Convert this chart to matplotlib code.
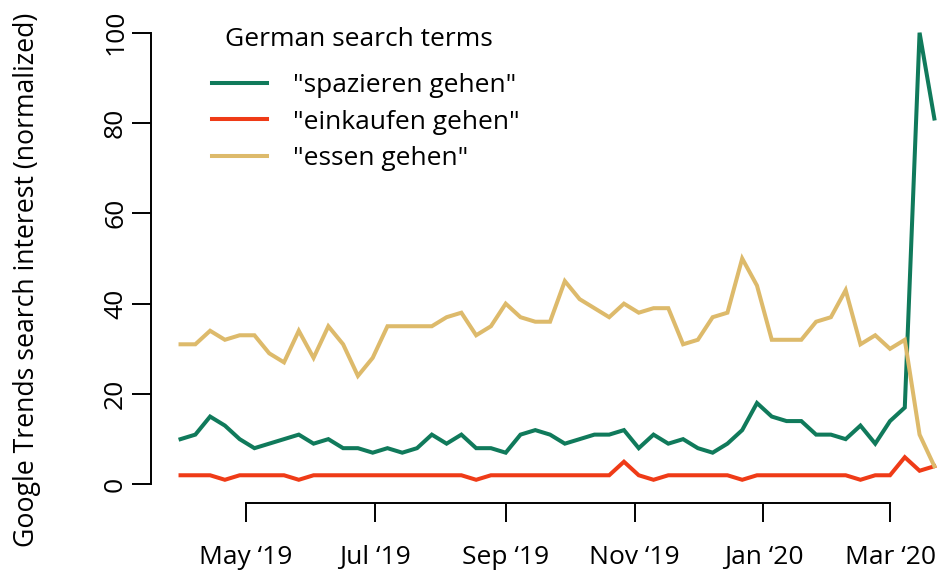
import matplotlib
matplotlib.use("Agg")
import matplotlib.pyplot as plt
import matplotlib.dates as mdates
import pandas as pd
import numpy as np

plt.rcParams['font.family'] = ['Open Sans', 'DejaVu Sans']

# Weekly Google Trends data (weeks starting Sunday)
start_week = "2019-03-31"
n_weeks = 52
weeks = pd.date_range(start=start_week, periods=n_weeks, freq="7D")

spazieren = [10, 11, 15, 13, 10, 8, 9, 10, 11, 9, 10, 8, 8, 7, 8, 7, 8, 11, 9, 11,
             8, 8, 7, 11, 12, 11, 9, 10, 11, 11, 12, 8, 11, 9, 10, 8, 7, 9, 12, 18,
             15, 14, 14, 11, 11, 10, 13, 9, 14, 17, 100, 81]
einkaufen = [2, 2, 2, 1, 2, 2, 2, 2, 1, 2, 2, 2, 2, 2, 2, 2, 2, 2, 2, 2,
             1, 2, 2, 2, 2, 2, 2, 2, 2, 2, 5, 2, 1, 2, 2, 2, 2, 2, 1, 2,
             2, 2, 2, 2, 2, 2, 1, 2, 2, 6, 3, 4]
essen = [31, 31, 34, 32, 33, 33, 29, 27, 34, 28, 35, 31, 24, 28, 35, 35, 35, 35, 37, 38,
         33, 35, 40, 37, 36, 36, 45, 41, 39, 37, 40, 38, 39, 39, 31, 32, 37, 38, 50, 44,
         32, 32, 32, 36, 37, 43, 31, 33, 30, 32, 11, 4]

series_labels = ['"spazieren gehen"', '"einkaufen gehen"', '"essen gehen"']
series_colors = ["#107a5b", "#ef3b17", "#ddba6b"]
legend_title = "German search terms"

xtick_dates = ["2019-05-01", "2019-07-01", "2019-09-01", "2019-11-01", "2020-01-01", "2020-03-01"]
xtick_labels = ["May \u201819", "Jul \u201819", "Sep \u201819", "Nov \u201819", "Jan \u201820", "Mar \u201820"]
yticks = [0, 20, 40, 60, 80, 100]
ylabel = "Google Trends search interest (normalized)"

W, H = 945, 579
fig = plt.figure(figsize=(W / 100, H / 100), dpi=100)

# axes geometry in pixels
ax_left_px, ax_right_px = 151, 945
ax_bottom_px, ax_top_px = 503, 12
ax_w = ax_right_px - ax_left_px
ax_h = ax_bottom_px - ax_top_px
ax = fig.add_axes([ax_left_px / W, (H - ax_bottom_px) / H, ax_w / W, ax_h / H])

for vals, lab, col in zip([spazieren, einkaufen, essen], series_labels, series_colors):
    ax.plot(weeks, vals, color=col, lw=2.9, label=lab, solid_joinstyle='miter')

# x scale: May 1 2019 at px 246, px per day 2.1115
may1 = mdates.date2num(pd.Timestamp("2019-05-01"))
ppd = 2.1115
ax.set_xlim(may1 + (ax_left_px - 246) / ppd, may1 + (ax_right_px - 246) / ppd)
ppu = 4.516
ax.set_ylim(-(ax_bottom_px - 484.3) / ppu, (484.3 - ax_top_px) / ppu)

xt = [mdates.date2num(pd.Timestamp(d)) for d in xtick_dates]
ax.set_xticks(xt)
ax.set_xticklabels(xtick_labels)
ax.set_yticks(yticks)
ax.set_yticklabels([str(v) for v in yticks], rotation=90, va='center')

for s in ['top', 'right']:
    ax.spines[s].set_visible(False)
ax.spines['left'].set_bounds(0, 100)
ax.spines['bottom'].set_bounds(xt[0], xt[-1])
for s in ['left', 'bottom']:
    ax.spines[s].set_linewidth(1.4)
ax.tick_params(axis='both', direction='out', length=13.5, width=1.4, labelsize=19, color='black')
ax.tick_params(axis='x', pad=17)
ax.tick_params(axis='y', pad=3)

ax.set_ylabel(ylabel, fontsize=19.2, va='center')
ax.yaxis.set_label_coords((27 - ax_left_px) / ax_w, (ax_bottom_px - 280) / ax_h)

leg = ax.legend(title=legend_title, loc='upper left',
                bbox_to_anchor=((209 - ax_left_px - 8) / ax_w, 1.0 - (16 - ax_top_px) / ax_h),
                frameon=False, fontsize=19, title_fontsize=19,
                handlelength=2.1, handletextpad=1.0, labelspacing=0.44,
                borderaxespad=0.0, alignment='left')
leg._legend_box.sep = 15.5
leg.get_title().set_x(13)

fig.savefig("out.png", dpi=100)
